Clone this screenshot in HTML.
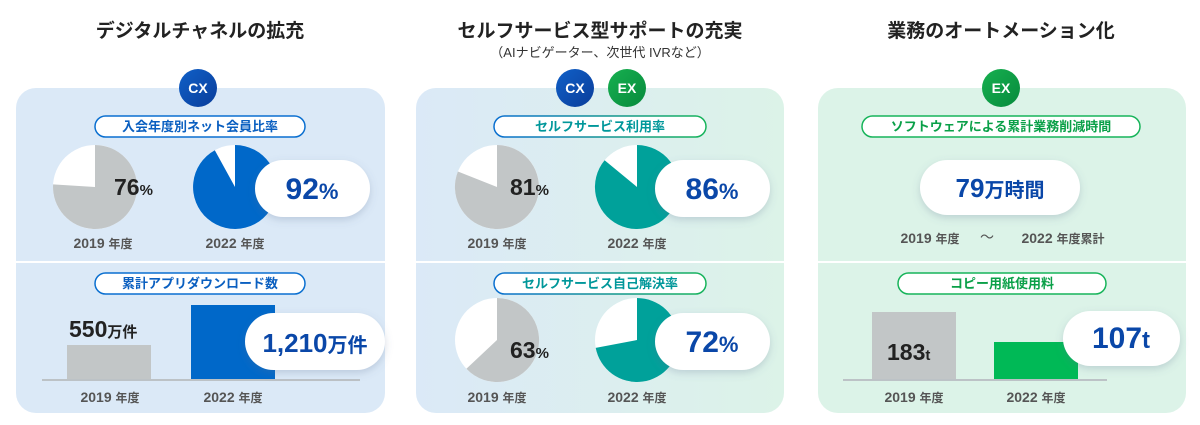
<!DOCTYPE html>
<html><head><meta charset="utf-8"><style>
body{margin:0;background:#fff;}
svg{display:block;font-family:"Liberation Sans","Noto Sans CJK JP",sans-serif;font-weight:bold;}
</style></head><body>
<svg width="1200" height="425" viewBox="0 0 1200 425" xmlns="http://www.w3.org/2000/svg">
<defs>
<linearGradient id="g2" x1="0" x2="1" y1="0" y2="0"><stop offset="0" stop-color="#dbe9f7"/><stop offset="1" stop-color="#dcf3e8"/></linearGradient>
<linearGradient id="pg" x1="0" x2="1"><stop offset="0" stop-color="#0a6fd0"/><stop offset="1" stop-color="#17b45a"/></linearGradient>
<linearGradient id="cx" x1="0" x2="1" y1="0" y2="1"><stop offset="0" stop-color="#1060c8"/><stop offset="1" stop-color="#0a3d9a"/></linearGradient>
<linearGradient id="ex" x1="0" x2="1" y1="0" y2="1"><stop offset="0" stop-color="#17b050"/><stop offset="1" stop-color="#078a3c"/></linearGradient>
<filter id="sh" x="-20%" y="-30%" width="140%" height="170%"><feDropShadow dx="0" dy="3" stdDeviation="4" flood-color="#5a7090" flood-opacity="0.25"/></filter>
</defs>
<g font-size="19" fill="#222" text-anchor="middle">
<text x="200" y="37">デジタルチャネルの拡充</text>
<text x="600" y="37">セルフサービス型サポートの充実</text>
<text x="1001" y="37">業務のオートメーション化</text>
</g>
<text x="600" y="57" font-size="13" font-weight="normal" fill="#333" text-anchor="middle">（AIナビゲーター、次世代 IVRなど）</text>
<rect x="16" y="88" width="369" height="325" rx="20" fill="#dbe9f7"/>
<rect x="416" y="88" width="368" height="325" rx="20" fill="url(#g2)"/>
<rect x="818" y="88" width="368" height="325" rx="20" fill="#dcf3e8"/>
<g stroke="#fff" stroke-width="2"><line x1="16" y1="262" x2="385" y2="262"/><line x1="416" y1="262" x2="784" y2="262"/><line x1="818" y1="262" x2="1186" y2="262"/></g>
<g font-size="14" fill="#fff" text-anchor="middle">
<circle cx="198" cy="88" r="19" fill="url(#cx)"/><text x="198" y="93">CX</text>
<circle cx="575" cy="88" r="19" fill="url(#cx)"/><text x="575" y="93">CX</text>
<circle cx="627" cy="88" r="19" fill="url(#ex)"/><text x="627" y="93">EX</text>
<circle cx="1001" cy="88" r="19" fill="url(#ex)"/><text x="1001" y="93">EX</text>
</g>
<g font-size="13" text-anchor="middle">
<rect x="95" y="116" width="210" height="21" rx="10.5" fill="#fff" stroke="#0a6fd0" stroke-width="1.5"/><text x="200" y="131" fill="#0a5fc0">入会年度別ネット会員比率</text>
<rect x="95" y="273" width="210" height="21" rx="10.5" fill="#fff" stroke="#0a6fd0" stroke-width="1.5"/><text x="200" y="288" fill="#0a5fc0">累計アプリダウンロード数</text>
<rect x="494" y="116" width="212" height="21" rx="10.5" fill="#fff" stroke="url(#pg)" stroke-width="1.5"/><text x="600" y="131" fill="#00979a">セルフサービス利用率</text>
<rect x="494" y="273" width="212" height="21" rx="10.5" fill="#fff" stroke="url(#pg)" stroke-width="1.5"/><text x="600" y="288" fill="#00979a">セルフサービス自己解決率</text>
<rect x="862" y="116" width="278" height="21" rx="10.5" fill="#fff" stroke="#17b45a" stroke-width="1.5"/><text x="1001" y="131" fill="#0aa048">ソフトウェアによる累計業務削減時間</text>
<rect x="898" y="273" width="208" height="21" rx="10.5" fill="#fff" stroke="#17b45a" stroke-width="1.5"/><text x="1002" y="288" fill="#0aa048">コピー用紙使用料</text>
</g>
<circle cx="95" cy="187" r="42" fill="#fff"/><path d="M95,187 L95,145 A42,42 0 1 1 53.1,184.4 Z" fill="#c2c6c7"/>
<circle cx="235" cy="187" r="42" fill="#fff"/><path d="M235,187 L235,145 A42,42 0 1 1 214.8,150.2 Z" fill="#0068c9"/>
<circle cx="497" cy="187" r="42" fill="#fff"/><path d="M497,187 L497,145 A42,42 0 1 1 457.9,171.5 Z" fill="#c2c6c7"/>
<circle cx="637" cy="187" r="42" fill="#fff"/><path d="M637,187 L637,145 A42,42 0 1 1 604.6,160.2 Z" fill="#00a19a"/>
<circle cx="497" cy="340" r="42" fill="#fff"/><path d="M497,340 L497,298 A42,42 0 1 1 466.4,368.7 Z" fill="#c2c6c7"/>
<circle cx="637" cy="340" r="42" fill="#fff"/><path d="M637,340 L637,298 A42,42 0 1 1 595.7,347.9 Z" fill="#00a19a"/>
<rect x="67" y="345" width="84" height="35" fill="#c2c6c7"/>
<rect x="191" y="305" width="84" height="75" fill="#0068c9"/>
<line x1="42" y1="380" x2="360" y2="380" stroke="#bcc2c6" stroke-width="2"/>
<rect x="872" y="312" width="84" height="68" fill="#c2c6c7"/>
<rect x="994" y="342" width="84" height="38" fill="#00b956"/>
<line x1="843" y1="380" x2="1107" y2="380" stroke="#bcc2c6" stroke-width="2"/>
<g font-size="23" fill="#222">
<text x="114" y="195">76<tspan font-size="15">%</tspan></text>
<text x="510" y="195">81<tspan font-size="15">%</tspan></text>
<text x="510" y="358">63<tspan font-size="15">%</tspan></text>
<text x="69" y="337">550<tspan font-size="15">万件</tspan></text>
<text x="887" y="360">183<tspan font-size="15">t</tspan></text>
</g>
<g filter="url(#sh)" fill="#fff">
<rect x="255" y="160" width="115" height="57" rx="28.5"/>
<rect x="245" y="313" width="140" height="57" rx="28.5"/>
<rect x="655" y="160" width="115" height="57" rx="28.5"/>
<rect x="655" y="313" width="115" height="57" rx="28.5"/>
<rect x="920" y="160" width="160" height="55" rx="27.5"/>
<rect x="1063" y="311" width="117" height="55" rx="27.5"/>
</g>
<g font-size="30" fill="#0a47a8" text-anchor="middle">
<text x="312" y="199">92<tspan font-size="22">%</tspan></text>
<text x="315" y="352" font-size="26">1,210<tspan font-size="20">万件</tspan></text>
<text x="712" y="199">86<tspan font-size="22">%</tspan></text>
<text x="712" y="352">72<tspan font-size="22">%</tspan></text>
<text x="1000" y="197" font-size="26">79<tspan font-size="20">万時間</tspan></text>
<text x="1121" y="348">107<tspan font-size="24">t</tspan></text>
</g>
<g font-size="14" fill="#555" text-anchor="middle">
<text x="103" y="248">2019 <tspan font-size="12">年度</tspan></text>
<text x="235" y="248">2022 <tspan font-size="12">年度</tspan></text>
<text x="497" y="248">2019 <tspan font-size="12">年度</tspan></text>
<text x="637" y="248">2022 <tspan font-size="12">年度</tspan></text>
<text x="497" y="402">2019 <tspan font-size="12">年度</tspan></text>
<text x="637" y="402">2022 <tspan font-size="12">年度</tspan></text>
<text x="110" y="402">2019 <tspan font-size="12">年度</tspan></text>
<text x="233" y="402">2022 <tspan font-size="12">年度</tspan></text>
<text x="914" y="402">2019 <tspan font-size="12">年度</tspan></text>
<text x="1036" y="402">2022 <tspan font-size="12">年度</tspan></text>
<text x="930" y="243">2019 <tspan font-size="12">年度</tspan></text>
<text x="987" y="242" font-weight="normal">〜</text>
<text x="1063" y="243">2022 <tspan font-size="12">年度累計</tspan></text>
</g>
</svg>
</body></html>
